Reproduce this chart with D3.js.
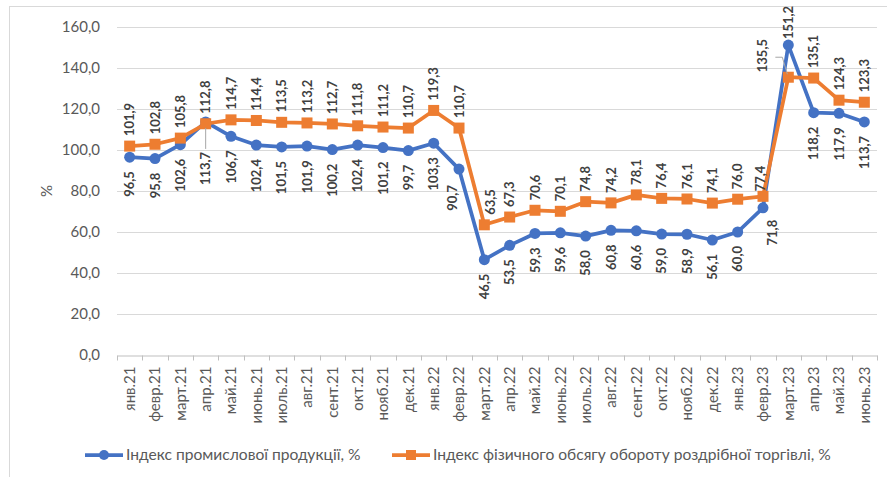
<!DOCTYPE html>
<html>
<head>
<meta charset="utf-8">
<title>Індекси</title>
<script src="https://cdn.jsdelivr.net/npm/d3@7"></script>
<style>
  body { margin: 0; background: #fff; }
  svg text { font-family: Lato, "Open Sans", sans-serif; }
</style>
</head>
<body>
<div id="chart"></div>
<script>
// months along the x axis
const months = ['янв.21', 'февр.21', 'март.21', 'апр.21', 'май.21', 'июнь.21', 'июль.21', 'авг.21',
  'сент.21', 'окт.21', 'нояб.21', 'дек.21', 'янв.22', 'февр.22', 'март.22', 'апр.22', 'май.22',
  'июнь.22', 'июль.22', 'авг.22', 'сент.22', 'окт.22', 'нояб.22', 'дек.22', 'янв.23', 'февр.23',
  'март.23', 'апр.23', 'май.23', 'июнь.23'];

// Індекс промислової продукції, %
const industry = [96.5, 95.8, 102.6, 113.7, 106.7, 102.4, 101.5, 101.9, 100.2, 102.4, 101.2, 99.7,
  103.3, 90.7, 46.5, 53.5, 59.3, 59.6, 58.0, 60.8, 60.6, 59.0, 58.9, 56.1, 60.0, 71.8, 151.2,
  118.2, 117.9, 113.7];

// Індекс фізичного обсягу обороту роздрібної торгівлі, %
const retail = [101.9, 102.8, 105.8, 112.8, 114.7, 114.4, 113.5, 113.2, 112.7, 111.8, 111.2, 110.7,
  119.3, 110.7, 63.5, 67.3, 70.6, 70.1, 74.8, 74.2, 78.1, 76.4, 76.1, 74.1, 76.0, 77.4, 135.5,
  135.1, 124.3, 123.3];

const yTicks = [0, 20, 40, 60, 80, 100, 120, 140, 160];
const seriesNames = ['Індекс промислової продукції, %',
  'Індекс фізичного обсягу обороту роздрібної торгівлі, %'];

const W = 887, H = 477;
const blue = '#4472c4', orange = '#ed7d31';
const fmt = v => d3.format('.1f')(v).replace('.', ',');

const svg = d3.select('#chart').append('svg')
  .attr('width', W).attr('height', H);

// chart frame
svg.append('rect')
  .attr('x', 9.5).attr('y', 6.5)
  .attr('width', W + 20).attr('height', H + 20)
  .attr('fill', 'none').attr('stroke', '#d9d9d9');

const x = d3.scaleBand().domain(months).range([117, 877]);
const y = d3.scaleLinear().domain([0, 160]).range([355, 27]);
const cx = i => x(months[i]) + x.bandwidth() / 2;

// gridlines
svg.append('g').selectAll('line')
  .data(yTicks.filter(t => t > 0))
  .join('line')
  .attr('x1', 117).attr('x2', 877)
  .attr('y1', d => Math.round(y(d)) + 0.5).attr('y2', d => Math.round(y(d)) + 0.5)
  .attr('stroke', '#d9d9d9');

// y axis labels
const yAxis = svg.append('g')
  .attr('transform', 'translate(100,0)')
  .call(d3.axisLeft(y).tickValues(yTicks).tickSize(0).tickPadding(0).tickFormat(fmt));
yAxis.select('.domain').remove();
yAxis.selectAll('text')
  .attr('fill', '#595959').attr('font-size', 15);

svg.append('text')
  .attr('transform', 'translate(47,191) rotate(-90)')
  .attr('text-anchor', 'middle').attr('dy', '0.35em')
  .attr('fill', '#595959').attr('font-size', 15)
  .text('%');

// x axis
const xAxis = svg.append('g')
  .attr('transform', 'translate(0,355.5)')
  .call(d3.axisBottom(x).tickSize(0).tickPadding(0));
xAxis.select('.domain').attr('stroke', '#bfbfbf');
xAxis.selectAll('.tick text')
  .attr('transform', 'translate(0,11) rotate(-90)')
  .attr('text-anchor', 'end')
  .attr('y', 0).attr('dy', '0.35em')
  .attr('fill', '#595959').attr('font-size', 15);
// band boundary ticks
xAxis.append('g').selectAll('line')
  .data(d3.range(months.length + 1))
  .join('line')
  .attr('x1', i => Math.round(117 + i * x.step()) + 0.5)
  .attr('x2', i => Math.round(117 + i * x.step()) + 0.5)
  .attr('y1', 0).attr('y2', 5)
  .attr('stroke', '#bfbfbf');

// lines
const line = d3.line().x((d, i) => cx(i)).y(d => y(d));
svg.append('path').datum(industry)
  .attr('d', line).attr('fill', 'none')
  .attr('stroke', blue).attr('stroke-width', 3.75).attr('stroke-linejoin', 'round');
svg.append('path').datum(retail)
  .attr('d', line).attr('fill', 'none')
  .attr('stroke', orange).attr('stroke-width', 3.75).attr('stroke-linejoin', 'round');

// markers
svg.append('g').selectAll('circle')
  .data(industry).join('circle')
  .attr('cx', (d, i) => cx(i)).attr('cy', d => y(d))
  .attr('r', 5.5).attr('fill', blue);
svg.append('g').selectAll('rect')
  .data(retail).join('rect')
  .attr('x', (d, i) => cx(i) - 5.5).attr('y', d => y(d) - 5.5)
  .attr('width', 11).attr('height', 11).attr('fill', orange);

// leader lines
const leader = d3.line();
svg.append('path')
  .attr('d', leader([[cx(3), y(industry[3]) + 6], [cx(3), y(industry[3]) + 27]]))
  .attr('stroke', '#a6a6a6').attr('fill', 'none');
svg.append('path')
  .attr('d', leader([[cx(26) - 13, y(retail[26]) - 20], [cx(26) - 6, y(retail[26]) - 20],
    [cx(26) - 1, y(retail[26]) - 3]]))
  .attr('stroke', '#a6a6a6').attr('fill', 'none');

// data labels: retail above, industry below, a few moved by hand
const retailPos = { 14: { dx: 6 }, 25: { dx: -3, gap: 5 }, 26: { dx: -26, gap: 5 } };
const industryPos = { 3: { gap: 30 }, 13: { dx: -7, gap: 16 }, 25: { dx: 9, gap: 12 },
  26: { above: true, gap: 6 } };

function labels(data, pos, defAbove, defGap) {
  svg.append('g').selectAll('text')
    .data(data).join('text')
    .each(function (d, i) {
      const p = pos[i] || {};
      const above = p.above !== undefined ? p.above : defAbove;
      const gap = p.gap !== undefined ? p.gap : defGap;
      const px = cx(i) + (p.dx || 0);
      const py = above ? y(d) - gap : y(d) + gap;
      d3.select(this)
        .attr('transform', `translate(${px},${py}) rotate(-90)`)
        .attr('text-anchor', above ? 'start' : 'end');
    })
    .attr('dy', '0.35em')
    .attr('font-size', 13).attr('font-weight', 'bold')
    .attr('fill', '#404040')
    .text(d => fmt(d));
}
labels(retail, retailPos, true, 10);
labels(industry, industryPos, false, 14);

// legend
const legend = svg.append('g').attr('transform', 'translate(0,455)');
legend.append('line').attr('x1', 85).attr('x2', 123).attr('stroke', blue).attr('stroke-width', 3.75);
legend.append('circle').attr('cx', 104).attr('r', 5).attr('fill', blue);
legend.append('text').attr('x', 126).attr('dy', '0.35em')
  .attr('fill', '#595959').attr('font-size', 15.6).text(seriesNames[0]);
legend.append('line').attr('x1', 392).attr('x2', 430).attr('stroke', orange).attr('stroke-width', 3.75);
legend.append('rect').attr('x', 406).attr('y', -5).attr('width', 10).attr('height', 10).attr('fill', orange);
legend.append('text').attr('x', 433).attr('dy', '0.35em')
  .attr('fill', '#595959').attr('font-size', 15.6).text(seriesNames[1]);
</script>
</body>
</html>
